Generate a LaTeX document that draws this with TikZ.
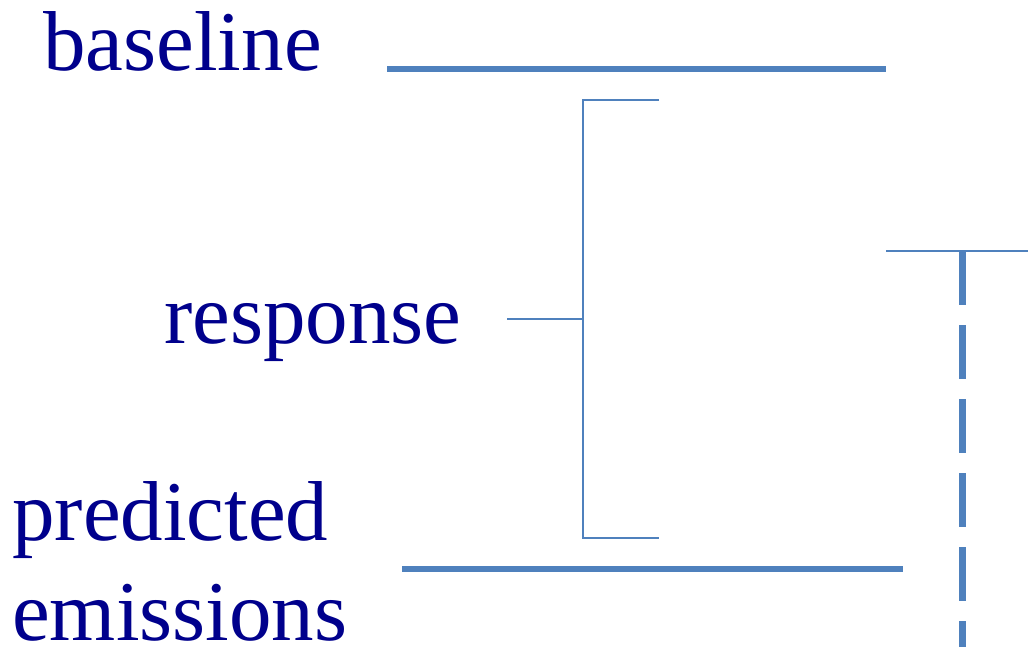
\documentclass[tikz,border=0pt]{standalone}
\usepackage{fontspec}
\setmainfont{Liberation Serif}
\usepackage{xcolor}
\definecolor{labelblue}{RGB}{0,0,140}
\definecolor{lineblue}{RGB}{79,129,189}
\begin{document}
\begin{tikzpicture}[
  x=1pt, y=-1pt,
  lbl/.style={anchor=base west, inner sep=0pt, text=labelblue, font=\fontsize{85}{100}\selectfont},
  level/.style={draw=lineblue, line width=6pt},
  brace/.style={draw=lineblue, line width=1.6pt},
]
\useasboundingbox (0,0) rectangle (1028,647);

% labels
\node [lbl] (base) at (43,71) {baseline};
\node [lbl] (resp) at (164,343) {response};
\node [lbl] (pred) at (12,540) {predicted};
\node [lbl] (emis) at (12,640) {emissions};

% levels
\coordinate (b1) at (387,69.5);
\coordinate (b2) at (886,69.5);
\coordinate (p1) at (402,569);
\coordinate (p2) at (903,569);
\draw [level] (b1) -- (b2);
\draw [level] (p1) -- (p2);

% bracket
\coordinate (top) at (659,100);
\coordinate (bot) at (659,538);
\coordinate (mid) at (583,319);
\coordinate (tail) at (507,319);
\draw [brace] (top) -- (583,100) -- (583,538) -- (bot);
\draw [brace] (tail) -- (mid);

% right marker
\coordinate (r1) at (886,251);
\coordinate (r2) at (1028,251);
\coordinate (d1) at (962,251);
\coordinate (d2) at (962,647);
\draw [brace] (r1) -- (r2);
\draw [draw=lineblue, line width=7pt, dash pattern=on 54pt off 20pt] (d1) -- (d2);
\end{tikzpicture}
\end{document}
